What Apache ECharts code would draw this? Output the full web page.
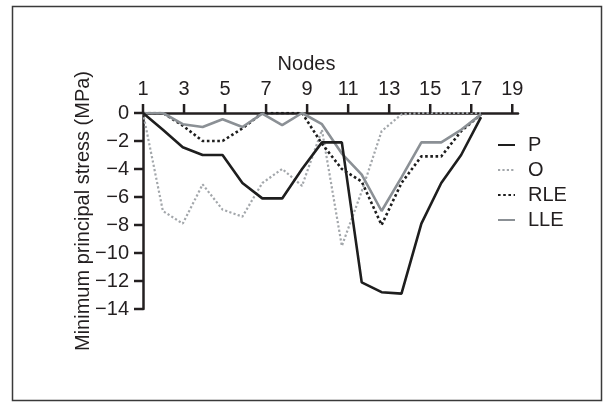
<!DOCTYPE html>
<html>
<head>
<meta charset="utf-8">
<script src="https://cdn.jsdelivr.net/npm/echarts@6/dist/echarts.min.js"></script>
<style>
html,body{margin:0;padding:0;background:#fff;}
#chart{width:603px;height:402px;}
</style>
</head>
<body>
<div id="chart"></div>
<script>
const nodes = [1,2,3,4,5,6,7,8,9,10,11,12,13,14,15,16,17,18];
const P   = [0, -1.2, -2.45, -3, -3, -5, -6.1, -6.1, -4, -2.1, -2.1, -12.1, -12.8, -12.9, -7.9, -5.0, -3.0, -0.3];
const O   = [0, -7.0, -7.9, -5.1, -6.9, -7.4, -5.0, -4.0, -5.2, -1.2, -9.5, -5.6, -1.3, -0.1, 0, 0, 0, 0];
const RLE = [0, 0, -0.9, -2.0, -2.0, -1.1, 0, 0, 0, -2.2, -4.0, -4.9, -8.0, -5.0, -3.1, -3.1, -1.3, -0.1];
const LLE = [0, 0, -0.8, -1.0, -0.45, -1.0, -0.05, -0.87, 0, -0.8, -2.9, -4.4, -7.0, -4.6, -2.1, -2.1, -1.2, -0.1];
const xTickLabels = [1,3,5,7,9,11,13,15,17,19];
const yTickLabels = [0,-2,-4,-6,-8,-10,-12,-14];
const seriesNames = ['P','O','RLE','LLE'];

const FONT = 'Liberation Sans';
const FS = 20;
const TXT = '#231f20';
const AX = '#231f20';
const TICK = 9;
const pair = arr => nodes.map((n,i)=>[n, arr[i]]);
const minus = v => String(v).replace('-', '\u2212');

// tick marks drawn through the axis scales (api.coord)
const tickData = xTickLabels.map(v => [v, 0, 'x']).concat(yTickLabels.map(v => [1, v, 'y']));
function renderTick(params, api){
  const kind = tickData[params.dataIndex][2];
  const p = api.coord([api.value(0), api.value(1)]);
  const end = kind === 'x' ? [p[0], p[1] - TICK] : [p[0] - TICK, p[1]];
  return {type:'line', shape:{x1:p[0], y1:p[1], x2:end[0], y2:end[1]},
          style:{stroke:AX, lineWidth:2.5}, silent:true};
}

const chart = echarts.init(document.getElementById('chart'), null, {renderer:'canvas'});
chart.setOption({
  animation:false,
  backgroundColor:'#fff',
  textStyle:{fontFamily:FONT},
  graphic:[{type:'rect', shape:{x:12.5,y:6.5,width:589,height:394}, style:{fill:'none', stroke:'#3a3a3a', lineWidth:1.5}, silent:true}],
  grid:{left:143, right:85, top:113, bottom:93, containLabel:false},
  xAxis:[{
    type:'value', position:'top', min:1, max:19.28, interval:2,
    name:'Nodes', nameLocation:'middle', nameGap:39,
    nameTextStyle:{fontSize:FS, color:TXT, fontFamily:FONT, padding:[0,48,0,0]},
    axisLine:{show:true, lineStyle:{color:AX, width:2.5}},
    axisTick:{show:false},
    axisLabel:{fontSize:FS, color:TXT, margin:14, fontFamily:FONT, showMaxLabel:false,
      formatter:v => (xTickLabels.indexOf(v) >= 0 ? String(v) : '')},
    splitLine:{show:false}
  },{
    type:'value', position:'top', min:1, max:19.86, show:false
  }],
  yAxis:{
    type:'value', min:-14, max:0, interval:2,
    name:'Minimum principal stress (MPa)', nameLocation:'middle', nameGap:50, nameMoveOverlap:false,
    nameTextStyle:{fontSize:FS, color:TXT, fontFamily:FONT},
    axisLine:{show:true, lineStyle:{color:AX, width:2.5}},
    axisTick:{show:false},
    axisLabel:{fontSize:FS, color:TXT, margin:14, fontFamily:FONT,
      formatter:v => (yTickLabels.indexOf(v) >= 0 ? minus(v) : '')},
    splitLine:{show:false}
  },
  legend:{
    data:seriesNames, orient:'vertical', left:492, top:130, itemWidth:17, itemHeight:3, itemGap:5,
    textStyle:{fontSize:FS, color:TXT, fontFamily:FONT, padding:[0,0,0,8]},
    itemStyle:{opacity:0}
  },
  series:[
    {name:'P', type:'line', xAxisIndex:1, data:pair(P), symbol:'none', z:5,
     lineStyle:{color:'#1e1e1e', width:2.6, type:'solid'}, itemStyle:{color:'#1e1e1e'}},
    {name:'O', type:'line', xAxisIndex:1, data:pair(O), symbol:'none', z:3,
     lineStyle:{color:'#a3a7ab', width:2.2, type:[2.2,2.2]}, itemStyle:{color:'#a3a7ab'}},
    {name:'RLE', type:'line', xAxisIndex:1, data:pair(RLE), symbol:'none', z:4,
     lineStyle:{color:'#1e1e1e', width:2.6, type:[2.6,2.6]}, itemStyle:{color:'#1e1e1e'}},
    {name:'LLE', type:'line', xAxisIndex:1, data:pair(LLE), symbol:'none', z:4,
     lineStyle:{color:'#8b9095', width:2.6, type:'solid'}, itemStyle:{color:'#8b9095'}},
    {name:'ticks', type:'custom', xAxisIndex:0, clip:false, z:6, silent:true,
     data:tickData.map(d => [d[0], d[1]]), renderItem:renderTick}
  ]
});
</script>
</body>
</html>
